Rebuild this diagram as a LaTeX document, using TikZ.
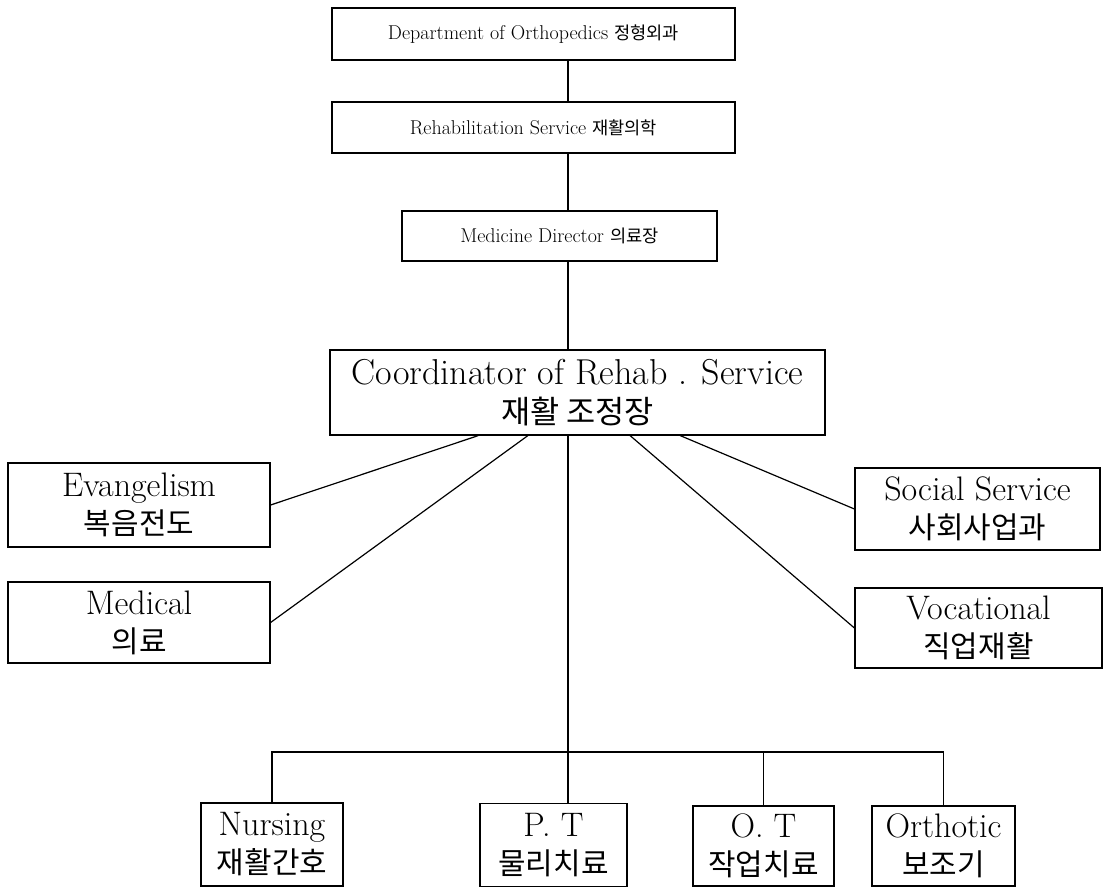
\documentclass[tikz,border=0pt]{standalone}
\usepackage{fontspec}
\newfontfamily\kr[Scale=0.88]{Noto Sans CJK KR}
\usetikzlibrary{calc}

\begin{document}
\begin{tikzpicture}[x=1pt,y=-1pt,line width=1.2pt]
\tikzstyle{b}=[draw,align=center,inner sep=0pt,font=\fontsize{34}{38}\selectfont]
\tikzstyle{t}=[b,font=\fontsize{20}{24}\selectfont]
\useasboundingbox (0,0) rectangle (1107,889);
\coordinate (trunk) at (568,0);
% top of the chain
\node[t,minimum width=403pt,minimum height=52pt] (dept) at (533.5,34) {Department of Orthopedics {\kr 정형외과}};
\node[t,minimum width=403pt,minimum height=51pt] (rehab) at (533.5,127.5) {Rehabilitation Service {\kr 재활의학}};
\node[t,minimum width=315pt,minimum height=50pt] (meddir) at (559.5,236) {Medicine Director {\kr 의료장}};
\node[b,minimum width=495pt,minimum height=85pt,font=\fontsize{36}{39}\selectfont] (coord) at (577.5,392.5) {Coordinator of Rehab . Service\\ {\kr 재활 조정장}};
% side boxes
\node[b,minimum width=262pt,minimum height=84pt] (evang) at (139,505) {Evangelism\\ {\kr 복음전도}};
\node[b,minimum width=262pt,minimum height=81pt] (medical) at (139,622.5) {Medical\\ {\kr 의료}};
\node[b,minimum width=245pt,minimum height=82pt] (social) at (977.5,509) {Social Service\\ {\kr 사회사업과}};
\node[b,minimum width=247pt,minimum height=80pt] (vocational) at (978.5,628) {Vocational\\ {\kr 직업재활}};
% bottom row
\node[b,minimum width=142pt,minimum height=83pt] (nursing) at (272,844.5) {Nursing\\ {\kr 재활간호}};
\node[b,minimum width=147pt,minimum height=83pt] (pt) at (553.5,845) {P. T\\ {\kr 물리치료}};
\node[b,minimum width=141pt,minimum height=80pt] (ot) at (763.5,846) {O. T\\ {\kr 작업치료}};
\node[b,minimum width=143pt,minimum height=80pt] (orthotic) at (943.5,846) {Orthotic\\ {\kr 보조기}};
\coordinate (bus) at (568,752);
\draw (dept.south -| trunk) -- (rehab.north -| trunk);
\draw (rehab.south -| trunk) -- (meddir.north -| trunk);
\draw (meddir.south -| trunk) -- (coord.north -| trunk);
\draw (coord.south -| trunk) -- (pt.north -| trunk);
\draw ($(coord.south west)!0.3!(coord.south east)$) -- (evang.east);
\draw ($(coord.south west)!0.4!(coord.south east)$) -- (medical.east);
\draw ($(coord.south west)!0.707!(coord.south east)$) -- (social.west);
\draw ($(coord.south west)!0.606!(coord.south east)$) -- (vocational.west);
\draw (nursing.north) -- (nursing.north |- bus) -- (orthotic.north |- bus) -- (orthotic.north);
\draw (ot.north) -- (ot.north |- bus);
\end{tikzpicture}
\end{document}
